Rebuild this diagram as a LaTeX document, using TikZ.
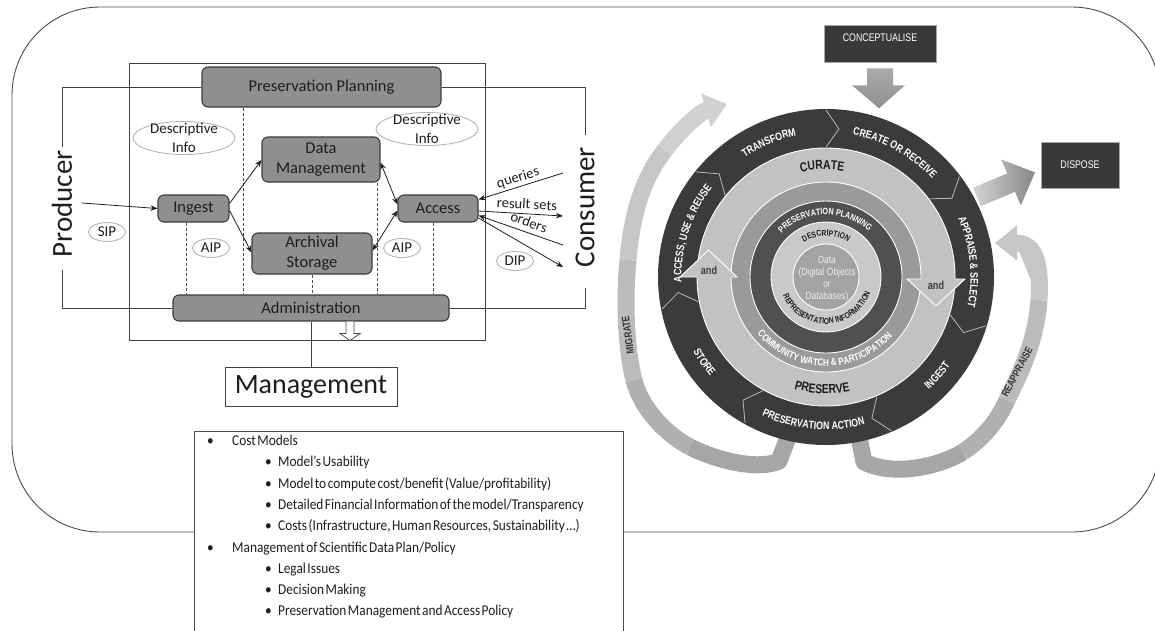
\documentclass[tikz,border=0pt]{standalone}
\usepackage{fontspec}
\setmainfont{Carlito}
\newfontfamily\ringfont[FakeStretch=0.8]{Liberation Sans}
\newfontfamily\listfont[FakeStretch=0.89,WordSpace=0.5]{Carlito}
\usetikzlibrary{arrows.meta,decorations.text,shapes.geometric}

\newcommand\fs[2]{\fontsize{#1}{#2}\selectfont}

\definecolor{boxfill}{HTML}{8F8F8F}
\definecolor{boxline}{HTML}{3C3C3C}
\definecolor{ink}{HTML}{1E1E1E}
\definecolor{ellline}{HTML}{B4B4B4}
\definecolor{ringdark}{HTML}{3B3B3B}
\definecolor{ringlight}{HTML}{C2C2C2}
\definecolor{ringmid}{HTML}{9A9A9A}
\definecolor{ringpp}{HTML}{505050}
\definecolor{ringdesc}{HTML}{C9C9C9}
\definecolor{datafill}{HTML}{A3A3A3}
\definecolor{bandA}{HTML}{A6A6A6}
\definecolor{bandB}{HTML}{B0B0B0}
\definecolor{bandC}{HTML}{BBBBBB}
\definecolor{bandD}{HTML}{C6C6C6}
\definecolor{bandE}{HTML}{D1D1D1}
\definecolor{arrowgrey}{HTML}{8E8E8E}
\definecolor{boxdark}{HTML}{393939}
\definecolor{chevgrey}{HTML}{B8B8B8}

% text set along a circular arc round the lifecycle centre
% #1 radius, #2 start angle, #3 end angle, #4 colour, #5 font, #6 text
\newcommand\ringlabel[6]{%
  \path[shift={(826,-277)},decorate,
    decoration={text along path,text align=center,text color=#4,text={|#5|#6}}]
    (#2:#1) arc[start angle=#2,end angle=#3,radius=#1];}
% chevron boundary between two stages of the outer ring
\newcommand\chev[1]{%
  \draw[chevline,shift={(826,-277)}] (#1:167) -- (#1-5:148.5) -- (#1:130);}

\begin{document}
\begin{tikzpicture}[x=1pt,y=1pt,
  box/.style={draw=boxline,fill=boxfill,rounded corners=6pt,line width=1.1pt,
    inner sep=0pt,text=ink,font=\fs{16.5}{20},align=center},
  ell/.style={draw=ellline,fill=white,ellipse,line width=0.9pt,inner sep=0pt},
  lbl/.style={text=ink,font=\fs{15}{19},align=center,inner sep=0pt},
  flowlbl/.style={text=ink,font=\fs{14.5}{15},inner sep=0pt},
  arr/.style={draw=ink,line width=0.8pt,-{Stealth[length=7pt,width=5.5pt]}},
  darr/.style={draw=ink,line width=0.8pt,
    {Stealth[length=7pt,width=5.5pt]}-{Stealth[length=7pt,width=5.5pt]}},
  conn/.style={draw=ink!85,line width=0.9pt},
  dsh/.style={draw=ink!80,line width=0.9pt,dash pattern=on 3pt off 2pt},
  listtxt/.style={text=ink,font=\listfont\fs{15}{18},inner sep=0pt,anchor=base west},
  chevline/.style={draw=chevgrey,line width=0.8pt},
  darkbox/.style={draw=gray!70,fill=boxdark,line width=0.6pt,inner sep=0pt},
  darktxt/.style={text=white,font=\ringfont\fs{11}{11},inner sep=0pt},
  band/.style={line width=17pt,line join=round},
  bandtip/.style={band,-{Triangle[width=34pt,length=22pt]}},
  bandtxt/.style={text=ink!90,font=\ringfont\bfseries\fs{10.5}{10.5},inner sep=0pt},
  andtxt/.style={text=ink!85,font=\ringfont\bfseries\fs{11.5}{11.5},inner sep=0pt}
]
\useasboundingbox (0,-630) rectangle (1155,0);

% outer rounded frame
\draw[draw=ink!80,line width=0.9pt,rounded corners=88pt] (12,-7) rectangle (1160,-532);

% ---------------- OAIS functional model ----------------
\node[draw=ink!85,line width=0.9pt,minimum width=356,minimum height=277,inner sep=0pt]
  (oais) at (307,-201.5) {};

\node[box,minimum width=239,minimum height=40] (pp) at (321.5,-87) {Preservation Planning};
\node[box,minimum width=118,minimum height=45] (dm) at (321,-159.5) {Data\\Management};
\node[box,minimum width=71,minimum height=27] (ingest) at (193.5,-208.5) {Ingest};
\node[box,minimum width=80,minimum height=27] (access) at (438,-208.5) {Access};
\node[box,minimum width=120,minimum height=41] (arch) at (312,-253.5) {Archival\\Storage};
\node[box,minimum width=276,minimum height=26] (admin) at (311,-308) {Administration};
\node[draw=ink!85,line width=0.9pt,fill=white,minimum width=172,minimum height=39,
  inner sep=0pt,text=ink,font=\fs{28}{28}] (mgmt) at (311,-386.5) {Management};

\node[text=ink,font=\fs{29}{29},rotate=90,inner sep=0pt] (producer) at (62,-204) {Producer};
\node[text=ink,font=\fs{29}{29},rotate=90,inner sep=0pt] (consumer) at (585,-207) {Consumer};

\coordinate (prodtop) at (62,-147);
\coordinate (prodbot) at (62,-270);
\coordinate (constop) at (585,-135);
\coordinate (consbot) at (585,-288);
\coordinate (prodout) at (82,-203);
\coordinate (qend) at (563,-173);
\coordinate (rsend) at (563,-216);
\coordinate (oend) at (563,-245);
\coordinate (dipend) at (563,-267);

% links to producer and consumer sides
\draw[conn] (pp.west) -| (prodtop);
\draw[conn] (admin.west) -| (prodbot);
\draw[conn] (pp.east) -| (constop);
\draw[conn] (admin.east) -| (consbot);
\draw[conn] (admin.south) -- (mgmt.north);

% dashed links to administration
\draw[dsh] ([xshift=-78.5]pp.south) -- ([xshift=-68]admin.north);
\draw[dsh] ([xshift=-7.5]ingest.south) -- ([xshift=-125]admin.north);
\draw[dsh] (arch.south) -- (arch.south |- admin.north);
\draw[dsh] ([xshift=56]dm.south) -- ([xshift=66]admin.north);
\draw[dsh] ([xshift=-5]access.south) -- ([xshift=122]admin.north);

% information flows
\draw[arr] (prodout) -- (ingest.west);
\draw[arr] ([yshift=5]ingest.east) -- ([yshift=-0.5]dm.west);
\draw[arr] ([yshift=-2]ingest.east) -- ([yshift=1]arch.west);
\draw[darr] ([yshift=-3]dm.east) -- ([yshift=4]access.west);
\draw[darr] ([yshift=3]arch.east) -- ([yshift=-2]access.west);
\draw[arr] (qend) -- ([yshift=9]access.east);
\draw[arr] ([yshift=-2.5]access.east) -- (rsend);
\draw[arr] (oend) -- ([yshift=-7]access.east);
\draw[arr] ([yshift=-9.5]access.east) -- (dipend);

\node[flowlbl,rotate=17] (qlbl) at (518,-178) {queries};
\node[flowlbl,rotate=-3] (rslbl) at (527,-204) {result sets};
\node[flowlbl,rotate=-20] (olbl) at (529,-222) {orders};

% hollow arrow below administration
\draw[draw=ink!80,fill=white,line width=0.8pt]
  ([xshift=35]admin.south) -- ++(0,-12) -- ++(-6,0) -- ++(10,-7) -- ++(10,7)
  -- ++(-6,0) -- ++(0,12);

% package labels
\node[ell,minimum width=102,minimum height=33] (di1) at (184,-138) {};
\node[lbl] at (di1.center) {Descriptive\\Info};
\node[ell,minimum width=102,minimum height=33] (di2) at (427,-129) {};
\node[lbl] at (di2.center) {Descriptive\\Info};
\node[ell,minimum width=37,minimum height=19] (sip) at (107,-232) {};
\node[lbl] at (sip.center) {SIP};
\node[ell,minimum width=37,minimum height=19] (aip1) at (211,-248) {};
\node[lbl] at (aip1.center) {AIP};
\node[ell,minimum width=37,minimum height=19] (aip2) at (402,-248) {};
\node[lbl] at (aip2.center) {AIP};
\node[ell,minimum width=37,minimum height=19] (dip) at (515,-261) {};
\node[lbl] at (dip.center) {DIP};

% ---------------- cost / management list ----------------
\node[draw=ink!80,fill=white,line width=0.9pt,minimum width=429,minimum height=215,
  anchor=north west,inner sep=0pt] (costbox) at (194,-431) {};
\node[listtxt] (b1) at (207,-445.5) {•};
\node[listtxt] (t1) at (232,-445.5) {Cost Models};
\node[listtxt] (b2) at (265,-466.8) {•};
\node[listtxt] (t2) at (278,-466.8) {Model’s Usability};
\node[listtxt] (b3) at (265,-488.1) {•};
\node[listtxt] (t3) at (278,-488.1) {Model to compute cost/benefit (Value/profitability)};
\node[listtxt] (b4) at (265,-509.4) {•};
\node[listtxt] (t4) at (278,-509.4) {Detailed Financial Information of the model/Transparency};
\node[listtxt] (b5) at (265,-530.7) {•};
\node[listtxt] (t5) at (278,-530.7) {Costs (Infrastructure, Human Resources, Sustainability …)};
\node[listtxt] (b6) at (207,-552) {•};
\node[listtxt] (t6) at (232,-552) {Management of Scientific Data Plan/Policy};
\node[listtxt] (b7) at (265,-573.3) {•};
\node[listtxt] (t7) at (278,-573.3) {Legal Issues};
\node[listtxt] (b8) at (265,-594.6) {•};
\node[listtxt] (t8) at (278,-594.6) {Decision Making};
\node[listtxt] (b9) at (265,-615.9) {•};
\node[listtxt] (t9) at (278,-615.9) {Preservation Management and Access Policy};

% ---------------- curation lifecycle ----------------
% migrate loop, darker at the bottom and lighter towards its head
\draw[band,draw=bandA] (790,-432) -- (779,-461) .. controls (760,-470) and (720,-462) .. (690,-447);
\draw[band,draw=bandB] (690,-447) .. controls (662,-432) and (640,-405) .. (634,-380);
\draw[band,draw=bandC] (634,-380) .. controls (626,-350) and (624,-300) .. (628,-260);
\draw[band,draw=bandD] (628,-260) .. controls (632,-210) and (645,-175) .. (665,-150);
\draw[bandtip,draw=bandE,fill=bandE] (665,-150) .. controls (680,-130) and (700,-112) .. (727,-104);
% reappraise loop
\draw[band,draw=bandA] (858,-432) -- (864,-462) .. controls (895,-477) and (940,-466) .. (963,-452);
\draw[band,draw=bandB] (963,-452) .. controls (985,-437) and (998,-420) .. (1007,-400);
\draw[band,draw=bandC] (1007,-400) .. controls (1022,-370) and (1036,-340) .. (1039,-300);
\draw[bandtip,draw=bandD,fill=bandD] (1039,-300) .. controls (1041,-262) and (1035,-243) .. (995,-243);
\node[bandtxt,rotate=98] (migrate) at (628,-335) {MIGRATE};
\node[bandtxt,rotate=62] (reappraise) at (1017,-372) {REAPPRAISE};

% conceptualise and dispose
\node[darkbox,minimum width=112,minimum height=37] (concept) at (880,-43.5) {};
\node[darktxt] at ([yshift=-13]concept.north) {CONCEPTUALISE};
\node[darkbox,minimum width=78,minimum height=46] (dispose) at (1080,-165) {};
\node[darktxt] at (dispose.center) {DISPOSE};
\shade[top color=arrowgrey!75!white,bottom color=arrowgrey,shift={(concept.south)}]
  (-13,-6) -- (13,-6) -- (13,-23) -- (25,-23) -- (-1,-46) -- (-28,-23) -- (-13,-23) -- cycle;
\shade[left color=black!17,right color=black!47,shift={(977,-197)},rotate=23]
  (0,-10) -- (37,-10) -- (37,-25) -- (63,0) -- (37,25) -- (37,10) -- (0,10) -- cycle;

% rings
\begin{scope}[shift={(826,-277)}]
  \fill[ringdark] (0,0) circle[radius=168];
  \filldraw[fill=ringlight,draw=white,line width=0.9pt] (0,0) circle[radius=129];
  \filldraw[fill=ringmid,draw=white,line width=0.9pt] (0,0) circle[radius=95];
  \filldraw[fill=ringpp,draw=white,line width=0.9pt] (0,0) circle[radius=76];
  \filldraw[fill=ringdesc,draw=white,line width=0.9pt] (0,0) circle[radius=55];
  \filldraw[fill=datafill,draw=white,line width=0.9pt] (0,0) circle[radius=33];
\end{scope}
\chev{90}
\chev{37}
\chev{-17}
\chev{-67}
\chev{-119}
\chev{-169}
\chev{141}

% curate / preserve arrowheads
\fill[ringlight] (907,-279) -- (965,-279) -- (936,-306) -- cycle;
\draw[white,line width=0.9pt] (921,-279) -- (907,-279) -- (936,-306) -- (965,-279) -- (955,-279);
\fill[ringlight] (680,-277) -- (737,-277) -- (708.5,-250) -- cycle;
\draw[white,line width=0.9pt] (697,-277) -- (680,-277) -- (708.5,-250) -- (737,-277) -- (731,-277);
\node[andtxt] (andr) at (936,-285) {and};
\node[andtxt] (andl) at (709,-270) {and};

% stage labels
\ringlabel{144.5}{163}{63}{white}{\ringfont\bfseries\fs{11}{11}}{TRANSFORM}
\ringlabel{144.5}{111}{11}{white}{\ringfont\bfseries\fs{11}{11}}{CREATE OR RECEIVE}
\ringlabel{144.5}{56}{-44}{white}{\ringfont\bfseries\fs{11}{11}}{APPRAISE {\&} SELECT}
\ringlabel{144.5}{212}{112}{white}{\ringfont\bfseries\fs{11}{11}}{ACCESS, USE {\&} REUSE}
\ringlabel{152.5}{-91.5}{8.5}{white}{\ringfont\bfseries\fs{11}{11}}{INGEST}
\ringlabel{152.5}{-145}{-45}{white}{\ringfont\bfseries\fs{11}{11}}{PRESERVATION ACTION}
\ringlabel{152.5}{-195}{-95}{white}{\ringfont\bfseries\fs{11}{11}}{STORE}

\ringlabel{107.5}{132}{52}{ink}{\ringfont\bfseries\fs{13}{13}}{CURATE}
\ringlabel{116.5}{-132}{-52}{ink}{\ringfont\bfseries\fs{13}{13}}{PRESERVE}
\ringlabel{89}{-151}{-31}{white}{\ringfont\bfseries\fs{10}{10}}{COMMUNITY WATCH {\&} PARTICIPATION}
\ringlabel{62.3}{151}{31}{white}{\ringfont\bfseries\fs{9}{9}}{PRESERVATION PLANNING}
\ringlabel{41}{140}{40}{ink}{\ringfont\bfseries\fs{8.5}{8.5}}{DESCRIPTION}
\ringlabel{47}{-178}{2}{ink}{\ringfont\bfseries\fs{8.5}{8.5}}{REPRESENTATION INFORMATION}

\node[align=center,text=white!92!black,font=\ringfont\fs{10.5}{12},inner sep=0pt]
  (datatxt) at (827,-279) {Data\\(Digital Objects\\or\\Databases)};
\end{tikzpicture}
\end{document}
